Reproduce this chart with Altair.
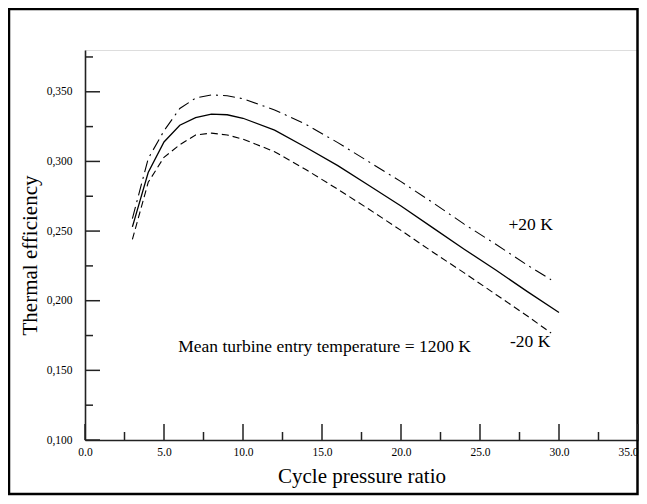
import altair as alt
import pandas as pd

# ---- data ----
pressure_ratio = [3, 4, 5, 6, 7, 8, 9, 10, 12, 14, 16, 18, 20, 22, 24, 26, 28]

mean_x = pressure_ratio + [30]
mean_eff = [0.253, 0.292, 0.314, 0.326, 0.3315, 0.334, 0.3335, 0.331, 0.3225,
            0.310, 0.297, 0.2825, 0.268, 0.2525, 0.237, 0.222, 0.2065, 0.1915]

plus_x = pressure_ratio + [29.5]
plus_eff = [0.259, 0.302, 0.322, 0.338, 0.3455, 0.3478, 0.3472, 0.345, 0.337,
            0.3265, 0.3135, 0.2995, 0.2855, 0.2705, 0.255, 0.2405, 0.2255, 0.2151]

minus_x = pressure_ratio + [29.5]
minus_eff = [0.244, 0.285, 0.303, 0.312, 0.319, 0.3203, 0.319, 0.316, 0.307,
             0.294, 0.280, 0.2655, 0.2505, 0.235, 0.220, 0.2045, 0.189, 0.1768]

x_major = [0, 5, 10, 15, 20, 25, 30, 35]
x_minor = [2.5, 7.5, 12.5, 17.5, 22.5, 27.5, 32.5]
y_major = [0.10, 0.15, 0.20, 0.25, 0.30, 0.35]
y_minor = [0.125, 0.175, 0.225, 0.275, 0.325, 0.375]

labels = ["Mean turbine entry temperature = 1200 K", "+20 K", "-20 K"]
label_x = [5.9, 26.8, 26.9]
label_y = [0.167, 0.2545, 0.1707]

FONT = "Liberation Serif, Times New Roman, serif"
W, H = 553, 390

xscale = alt.Scale(domain=[0, 35], nice=False, zero=False)
yscale = alt.Scale(domain=[0.1, 0.38], nice=False, zero=False)

xaxis = alt.Axis(values=x_major, format=".1f", ticks=False, grid=False,
                 title="Cycle pressure ratio", labelFont=FONT, labelFontSize=11.5,
                 labelColor="black", labelPadding=6,
                 labelAlign={"condition": {"test": "datum.value >= 35", "value": "right"},
                             "value": "center"},
                 titleFont=FONT,
                 titleFontSize=21, titleFontWeight="normal", titleColor="black",
                 titlePadding=8, domainColor="#222", domainWidth=1.6)
yaxis = alt.Axis(values=y_major, ticks=False, grid=False,
                 labelExpr="replace(format(datum.value, '.3f'), '.', ',')",
                 title="Thermal efficiency", labelFont=FONT, labelFontSize=11.5,
                 labelColor="black", labelPadding=13, titleFont=FONT,
                 titleFontSize=21, titleFontWeight="normal", titleColor="black",
                 titleX=-55, titleY=205, titleAlign="center", titleBaseline="middle",
                 domainColor="#222", domainWidth=1.6)

X = alt.X("x:Q", scale=xscale, axis=xaxis)
Y = alt.Y("y:Q", scale=yscale, axis=yaxis)

df_mean = pd.DataFrame({"x": mean_x, "y": mean_eff})
df_plus = pd.DataFrame({"x": plus_x, "y": plus_eff})
df_minus = pd.DataFrame({"x": minus_x, "y": minus_eff})

frame = alt.Chart(pd.DataFrame({"k": [0]})).mark_rect(
    fillOpacity=0, stroke="black", strokeWidth=2.5
).encode(x=alt.value(-76), x2=alt.value(552.5), y=alt.value(-41), y2=alt.value(444))

line_mean = alt.Chart(df_mean).mark_line(color="black", strokeWidth=1.3).encode(x=X, y=Y)
line_plus = alt.Chart(df_plus).mark_line(color="black", strokeWidth=1.1,
                                         strokeDash=[12, 5, 2, 5]).encode(x=X, y=Y)
line_minus = alt.Chart(df_minus).mark_line(color="black", strokeWidth=1.1,
                                           strokeDash=[7, 4]).encode(x=X, y=Y)

xt_major = alt.Chart(pd.DataFrame({"x": x_major})).mark_rule(color="#222", strokeWidth=1.5).encode(
    x=X, y=alt.value(H), y2=alt.value(H - 16))
xt_minor = alt.Chart(pd.DataFrame({"x": x_minor})).mark_rule(color="#222", strokeWidth=1.5).encode(
    x=X, y=alt.value(H), y2=alt.value(H - 8))
yt_major = alt.Chart(pd.DataFrame({"y": y_major})).mark_rule(color="#222", strokeWidth=1.5).encode(
    y=Y, x=alt.value(0), x2=alt.value(15))
yt_minor = alt.Chart(pd.DataFrame({"y": y_minor})).mark_rule(color="#222", strokeWidth=1.5).encode(
    y=Y, x=alt.value(0), x2=alt.value(8))

texts = alt.Chart(pd.DataFrame({"x": label_x, "y": label_y, "t": labels})).mark_text(
    font=FONT, fontSize=17.5, color="black", align="left", baseline="middle"
).encode(x=X, y=Y, text="t:N")

chart = alt.layer(
    frame, xt_major, xt_minor, yt_major, yt_minor, line_minus, line_plus, line_mean, texts
).properties(
    width=W, height=H,
    autosize=alt.AutoSizeParams(type="none"),
    padding={"left": 77, "top": 42, "right": 1, "bottom": 56},
).configure_view(stroke="#777", strokeWidth=1.2).configure(background="white")

chart.save("out.html", embed_options={"renderer": "svg", "actions": False})
